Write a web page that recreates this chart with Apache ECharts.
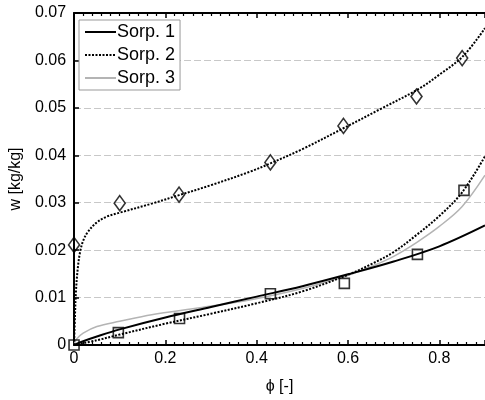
<!DOCTYPE html>
<html>
<head>
<meta charset="utf-8">
<script src="https://cdn.jsdelivr.net/npm/echarts@6/dist/echarts.min.js"></script>
<style>html,body{margin:0;padding:0;background:#fff}#c{width:485px;height:400px}</style>
</head>
<body>
<div id="c"></div>
<script>
// Measured points (markers)
const measPhi = [0, 0.1, 0.23, 0.43, 0.59, 0.75, 0.85];
const measUpperW = [0.0211, 0.0299, 0.0317, 0.0385, 0.0462, 0.0524, 0.0605];
const measLowerPhi = [0, 0.097, 0.231, 0.43, 0.592, 0.752, 0.854];
const measLowerW = [0.0, 0.0026, 0.0056, 0.0108, 0.0130, 0.0191, 0.0326];

// Fitted curves
const sorp1Phi = [0, 0.02, 0.05, 0.1, 0.2, 0.3, 0.4, 0.5, 0.6, 0.7, 0.8, 0.9];
const sorp1W   = [0, 0.0008, 0.0018, 0.0033, 0.0058, 0.0080, 0.0102, 0.0124, 0.0149, 0.0176, 0.0208, 0.0252];

const sorp2UpPhi = [0, 0.002, 0.004, 0.008, 0.013, 0.02, 0.03, 0.048, 0.07, 0.1, 0.17, 0.23, 0.3, 0.387, 0.43, 0.5, 0.59, 0.67, 0.755, 0.8, 0.852, 0.9];
const sorp2UpW   = [0, 0.006, 0.011, 0.016, 0.0195, 0.022, 0.0238, 0.0257, 0.027, 0.0279, 0.0298, 0.0316, 0.0337, 0.0366, 0.0383, 0.0413, 0.0457, 0.0497, 0.0540, 0.0570, 0.0609, 0.0668];

const sorp2LoPhi = [0, 0.05, 0.1, 0.2, 0.3, 0.4, 0.5, 0.6, 0.65, 0.7, 0.75, 0.8, 0.85, 0.9];
const sorp2LoW   = [0, 0.0010, 0.0022, 0.0045, 0.0066, 0.0088, 0.0113, 0.0148, 0.0170, 0.0196, 0.0232, 0.0272, 0.0322, 0.0398];

const sorp3Phi = [0, 0.005, 0.02, 0.05, 0.1, 0.17, 0.28, 0.39, 0.5, 0.6, 0.65, 0.7, 0.75, 0.8, 0.85, 0.9];
const sorp3W   = [0, 0.0012, 0.0025, 0.0039, 0.0050, 0.0064, 0.0079, 0.0096, 0.0119, 0.0147, 0.0165, 0.0187, 0.0216, 0.0250, 0.0292, 0.0358];

const yTicks = [0, 0.01, 0.02, 0.03, 0.04, 0.05, 0.06, 0.07];
const xLabels = ['0', '0.2', '0.4', '0.6', '0.8'];
const legendNames = ['Sorp. 1', 'Sorp. 2', 'Sorp. 3'];

const zip = (a, b) => a.map((v, i) => [v, b[i]]);
const FONT = 'Liberation Sans, Arial, sans-serif';

const chart = echarts.init(document.getElementById('c'), null, {renderer: 'canvas'});
const xCommon = {
  type: 'value', min: 0, max: 0.9, interval: 0.2,
  axisLine: {show: true, onZero: false, lineStyle: {color: '#000', width: 2}},
  axisTick: {show: true, inside: true, length: 5, lineStyle: {color: '#000', width: 1.5}},
  minorTick: {show: true, splitNumber: 10, length: 3, lineStyle: {color: '#000', width: 1.2}},
  splitLine: {show: false}
};
const lineCommon = {type: 'line', smooth: 0.35, showSymbol: false, symbol: 'none', z: 4};
chart.setOption({
  backgroundColor: '#fff',
  animation: false,
  textStyle: {fontFamily: FONT},
  grid: {left: 71, right: -2, top: 13, bottom: 49, containLabel: false},
  legend: {
    orient: 'vertical', left: 79, top: 20,
    data: legendNames,
    itemWidth: 31, itemHeight: 18, itemGap: 5,
    padding: [3, 5, 3, 5],
    backgroundColor: '#fff', borderColor: '#999', borderWidth: 1,
    itemStyle: {color: 'rgba(0,0,0,0)', borderWidth: 0, opacity: 0},
    textStyle: {fontSize: 18, color: '#000', fontFamily: FONT, padding: [0, 0, 0, -4]}
  },
  xAxis: [
    Object.assign({}, xCommon, {
      position: 'bottom',
      name: 'ϕ [-]', nameLocation: 'middle', nameGap: 34,
      nameTextStyle: {fontSize: 16, color: '#000', fontFamily: FONT},
      axisLabel: {show: true, fontSize: 16, color: '#000', margin: 6, showMaxLabel: false,
        formatter: v => { const i = Math.round(v / 0.2); return Math.abs(v - i * 0.2) < 1e-9 ? xLabels[i] : ''; }}
    }),
    Object.assign({}, xCommon, {position: 'top', axisLabel: {show: false}})
  ],
  yAxis: {
    type: 'value', min: 0, max: 0.07, interval: 0.01,
    name: 'w [kg/kg]', nameLocation: 'middle', nameGap: 41,
    nameTextStyle: {fontSize: 16, color: '#000', fontFamily: FONT},
    axisLine: {show: true, onZero: false, lineStyle: {color: '#000', width: 2}},
    axisTick: {show: true, inside: true, length: 5, lineStyle: {color: '#000', width: 1.5}},
    axisLabel: {fontSize: 16, color: '#000', margin: 8,
      formatter: v => { const i = Math.round(v / 0.01); return String(yTicks[i]); }},
    splitLine: {show: true, lineStyle: {color: '#c8c8c8', width: 1, type: [7, 3]}}
  },
  series: [
    Object.assign({}, lineCommon, {name: 'Sorp. 1', data: zip(sorp1Phi, sorp1W),
      lineStyle: {color: '#000', width: 2}, itemStyle: {color: '#000'}}),
    Object.assign({}, lineCommon, {name: 'Sorp. 2', data: zip(sorp2UpPhi, sorp2UpW),
      lineStyle: {color: '#000', width: 2, type: [2, 1.5]}, itemStyle: {color: '#000'}}),
    Object.assign({}, lineCommon, {name: 'Sorp. 2', data: zip(sorp2LoPhi, sorp2LoW),
      lineStyle: {color: '#000', width: 2, type: [2, 1.5]}, itemStyle: {color: '#000'}}),
    Object.assign({}, lineCommon, {name: 'Sorp. 3', data: zip(sorp3Phi, sorp3W), z: 3,
      lineStyle: {color: '#b4b4b4', width: 1.5}, itemStyle: {color: '#b4b4b4'}}),
    {name: 'upper', type: 'scatter', data: zip(measPhi, measUpperW), symbol: 'diamond', symbolSize: [11, 15],
      itemStyle: {color: 'rgba(0,0,0,0)', borderColor: '#000', borderWidth: 1.6}, z: 5},
    {name: 'lower', type: 'scatter', data: zip(measLowerPhi, measLowerW), symbol: 'rect', symbolSize: 10,
      itemStyle: {color: 'rgba(0,0,0,0)', borderColor: '#000', borderWidth: 1.6}, z: 5}
  ]
});
</script>
</body>
</html>
